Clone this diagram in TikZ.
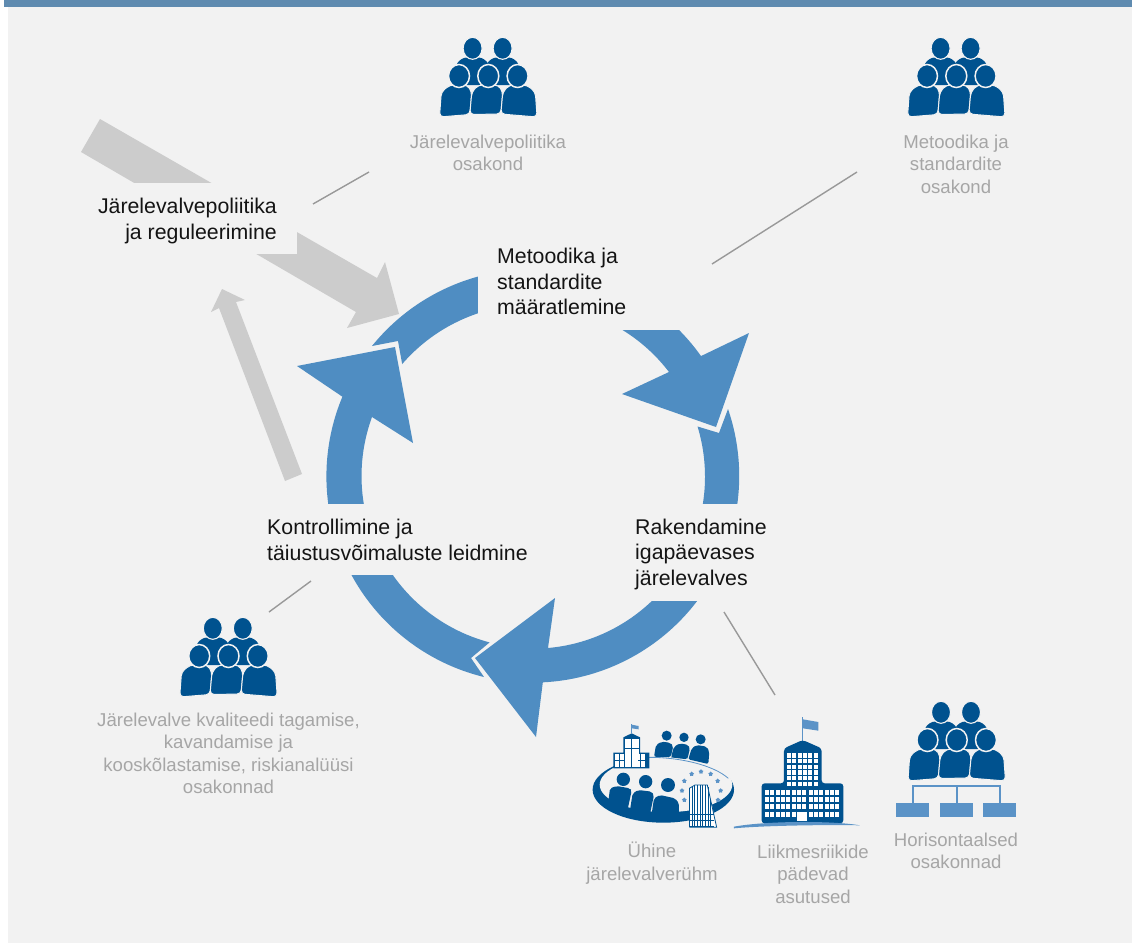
\documentclass[tikz,border=0pt]{standalone}
\usepackage{fontspec}
\setmainfont{Liberation Sans}
\usetikzlibrary{shapes.geometric}
\definecolor{bgc}{HTML}{F2F2F2}
\definecolor{barc}{HTML}{5F8BB0}
\definecolor{ringc}{HTML}{4F8DC2}
\definecolor{iconc}{HTML}{00528F}
\definecolor{lightc}{HTML}{5B93C7}
\definecolor{arrowc}{HTML}{CCCCCC}
\definecolor{linec}{HTML}{999999}
\definecolor{textc}{HTML}{A6A6A6}
\tikzset{
  people/.pic={
    \foreach \hx in {-15.7,14.3}{
      \fill[iconc,rounded corners=3pt] (\hx-16,65) -- (\hx-16,43) -- (\hx-9,37.5) -- (\hx+9,37.5) -- (\hx+16,43) -- (\hx+16,65) -- cycle;
      \filldraw[fill=iconc,draw=bgc,line width=1.1pt] (\hx,28.3) ellipse[x radius=9.5pt,y radius=11pt];
    }
    \filldraw[fill=iconc,draw=bgc,line width=1pt,rounded corners=4pt] (-48.8,97) -- (-47,72) -- (-38.5,65) -- (-21,65) -- (-16.5,72) -- (-18.5,94.5) -- cycle;
    \filldraw[fill=iconc,draw=bgc,line width=1pt,rounded corners=4pt] (-18.5,94.5) -- (-16.5,72) -- (-10,65) -- (10,65) -- (14.5,72) -- (12.5,94) -- cycle;
    \filldraw[fill=iconc,draw=bgc,line width=1pt,rounded corners=4pt] (12.5,94) -- (14.5,72) -- (21,65) -- (38.5,65) -- (47,72) -- (48.8,97) -- cycle;
    \foreach \hx in {-29.3,0,29.3}
      \filldraw[fill=iconc,draw=bgc,line width=1.5pt] (\hx,56) ellipse[x radius=10.5pt,y radius=11.5pt];
  },
  darktext/.style={font=\fontsize{21.3}{25.6}\selectfont,text=black!92,inner sep=0pt},
  greytext/.style={font=\fontsize{18.6}{22.3}\selectfont,text=textc,inner sep=0pt,align=center,anchor=north},
  thinline/.style={draw=linec,line width=1.4pt},
  deptbox/.style={fill=lightc,minimum width=33pt,minimum height=14pt,inner sep=0pt},
  orgline/.style={draw=lightc,line width=2pt},
  eustar/.style={star,star points=5,fill=lightc,minimum size=5pt,inner sep=0pt}
}
\begin{document}
\begin{tikzpicture}[x=1pt,y=-1pt]
\useasboundingbox (0,0) rectangle (1132,943);
\fill[white] (0,0) rectangle (1132,943);
\fill[bgc] (8,6) rectangle (1132,943);
\fill[barc] (4,0) rectangle (1132,6.7);

% grey arrows
\fill[arrowc] (100,119) -- (377,278) -- (385,262) -- (399,314) -- (347,328) -- (356,312) -- (81,152) -- cycle;
\fill[arrowc] (285,481) -- (219,308) -- (211,312) -- (222,289) -- (245,300) -- (236,302) -- (302,474) -- cycle;

% ring
\fill[ringc] (484,677) arc[start angle=256.3,end angle=157.3,radius=206.5pt] -- (297,366) -- (395,347) -- (413,443) -- (372,417) arc[start angle=159.9,end angle=255.2,radius=172pt] -- (471,658) -- cycle;
\fill[ringc] (372,346) arc[start angle=141.1,end angle=35.4,radius=206.5pt] -- (749,333) -- (716,427) -- (622,394) -- (669,372) arc[start angle=37.4,end angle=139.2,radius=172pt] -- (398,341) -- cycle;
\fill[ringc] (728,409) arc[start angle=18.96,end angle=-87.2,radius=206.5pt] -- (536,737) -- (475,658) -- (555,598) -- (548,648) arc[start angle=-85,end angle=16.96,radius=172pt] -- (719,433) -- cycle;

% label backgrounds
\fill[bgc] (65,183) rectangle (297,254);
\fill[bgc] (478,235) rectangle (706,330);
\fill[bgc] (246,504) rectangle (540,575);
\fill[bgc] (628,504) rectangle (775,601);

\node[darktext,align=right,anchor=north east](policy) at (277,198) {Järelevalvepoliitika\\ja reguleerimine};
\node[darktext,align=left,anchor=north west](method) at (497,248) {Metoodika ja\\standardite\\määratlemine};
\node[darktext,align=left,anchor=north west](apply) at (635,518.5) {Rakendamine\\igapäevases\\järelevalves};
\node[darktext,align=left,anchor=north west](control) at (267,519) {Kontrollimine ja\\täiustusvõimaluste leidmine};

% staff groups
\pic (groupA) at (488.3,20) {people};
\pic (groupB) at (956.3,20) {people};
\pic (groupC) at (228.5,600) {people};
\pic (groupD) at (956.7,684) {people};

\node[greytext](policydep) at (488,135) {Järelevalvepoliitika\\osakond};
\node[greytext](methoddep) at (956,135) {Metoodika ja\\standardite\\osakond};
\node[greytext](qualitydep) at (228.5,713) {Järelevalve kvaliteedi tagamise,\\kavandamise ja\\kooskõlastamise, riskianalüüsi\\osakonnad};
\node[greytext](ssm) at (652,842) {Ühine\\järelevalverühm};
\node[greytext](nca) at (813,845) {Liikmesriikide\\pädevad\\asutused};
\node[greytext](horizontal) at (956,833) {Horisontaalsed\\osakonnad};

% thin lines
\coordinate (pa) at (313,204);
\coordinate (pb) at (369,172);
\coordinate (ma) at (712,264);
\coordinate (mb) at (857,172);
\coordinate (ca) at (311,581);
\coordinate (cb) at (269,612);
\coordinate (aa) at (724,612);
\coordinate (ab) at (775,695);
\draw[thinline] (pa) -- (pb);
\draw[thinline] (ma) -- (mb);
\draw[thinline] (ca) -- (cb);
\draw[thinline] (aa) -- (ab);

% org chart under horizontal departments
\node[deptbox](deptA) at (912.5,810) {};
\node[deptbox](deptB) at (956.5,810) {};
\node[deptbox](deptC) at (999.5,810) {};
\coordinate (deptTop) at (956.5,786);
\draw[orgline] (deptA) |- (deptTop);
\draw[orgline] (deptC) |- (deptTop);
\draw[orgline] (deptB) -- (deptTop);

% joint supervisory team icon, coordinates from a 3x grid
\begin{scope}[shift={(580,700)},x=0.3333pt,y=-0.3333pt]
\fill[iconc] (250,269) ellipse[x radius=70.7pt,y radius=33pt];
\fill[bgc] (258,254) ellipse[x radius=66.3pt,y radius=27.5pt];
\draw[lightc,line width=0.8pt] (208,172) .. controls (300,172) and (400,195) .. (445,235);
\foreach \px/\py/\pr in {260/107/15,312/112/14,362/118/15,130/238/20,197/245/20,264/255/21}
  \fill[iconc] (\px,\py) circle[radius=\pr*0.3333pt];
\fill[iconc,rounded corners=2pt] (222,170) -- (228,135) -- (245,125) -- (270,128) -- (280,138) -- (272,172) -- cycle;
\fill[iconc,rounded corners=2pt] (273,172) -- (282,140) -- (300,130) -- (325,135) -- (330,145) -- (322,178) -- cycle;
\fill[iconc,rounded corners=2pt] (325,178) -- (335,145) -- (350,135) -- (380,140) -- (388,155) -- (385,192) -- cycle;
\fill[iconc,rounded corners=2pt] (85,305) -- (90,265) -- (110,258) -- (150,265) -- (155,272) -- (143,328) -- cycle;
\fill[iconc,rounded corners=2pt] (150,330) -- (158,280) -- (175,270) -- (215,275) -- (222,285) -- (210,342) -- cycle;
\fill[iconc,rounded corners=2pt] (215,342) -- (222,295) -- (240,285) -- (285,295) -- (297,310) -- (297,345) -- cycle;
% small building
\draw[lightc,line width=1pt] (155,72) -- (155,100);
\fill[lightc] (155,74) -- (176,78) -- (176,88) -- (155,85) -- cycle;
\fill[iconc] (130,158) -- (130,112) -- (155,100) -- (180,112) -- (180,158) -- (208,158) -- (208,205) -- (100,205) -- (100,158) -- cycle;
\foreach \wx in {135,157}
  \foreach \wy in {117,147}
    \fill[white] (\wx,\wy) rectangle ++(19,26);
\foreach \wx in {105,120,169,184}
  \foreach \wy in {163,184}
    \fill[white] (\wx,\wy) rectangle ++(11,17);
\fill[white] (135,174) rectangle (175,201);
\draw[iconc,line width=.6pt] (155,147) -- (155,205);
% stars
\foreach \sx/\sy [count=\i] in {335/222,363/215,392/222,413/243,422/272,414/300,313/243,306/272,313/300}
  \node[eustar](star\i) at (\sx,\sy) {};
% tower
\fill[white] (328,265) -- (345,255) -- (382,255) -- (395,310) -- (410,382) -- (328,382) -- cycle;
\foreach \tx/\ty in {328/265,336/260,344/255,352/255,360/255,368/255,376/255,384/262,392/300}
  \draw[iconc,line width=.8pt] (\tx,\ty) -- (\tx,382);
\foreach \ty in {342,360,380}
  \draw[iconc,line width=.7pt] (328,\ty) -- (403,\ty);
\draw[iconc,line width=.8pt] (328,265) -- (345,255) -- (382,255) -- (410,382) -- (328,382);
% member state building
\draw[lightc,line width=1.3pt] (668,52) -- (668,122);
\fill[lightc] (669,58) -- (715,66) -- (715,92) -- (669,85) -- cycle;
\fill[iconc,rounded corners=3pt] (612,250) -- (612,145) -- (668,120) -- (725,145) -- (725,250) -- (790,250) -- (790,370) -- (545,370) -- (545,250) -- cycle;
\foreach \wx in {621,637,653,669,685,701}
  \foreach \wy in {160,177,194,211,228,245}
    \fill[white] (\wx,\wy) rectangle ++(12,13);
\foreach \wx in {555,571,587,603,619,635,651,667,686,702,718,734,750,766}
  \foreach \wy in {270,291,312,335}
    \fill[white] (\wx,\wy) rectangle ++(12,16);
\fill[white] (651,335) rectangle (680,363);
\fill[lightc] (462,380) .. controls (560,362) and (760,362) .. (840,376) .. controls (760,374) and (560,376) .. (462,385) -- cycle;
\end{scope}
\end{tikzpicture}
\end{document}
